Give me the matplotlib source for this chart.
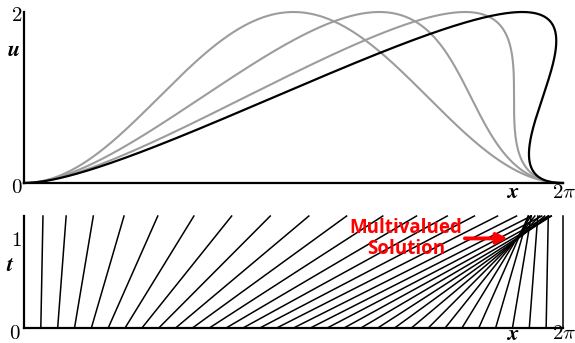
import numpy as np
import matplotlib.pyplot as plt

plt.rcParams['mathtext.fontset'] = 'cm'

# профили решения u(x, t) для u_t + u u_x = 0, u(x, 0) = 1 - cos x
t_gray = [0.0, 0.5, 1.0]
t_black = 4 / 3
# характеристики
t_char = 1.3
n_char = 33

s = np.linspace(0, 2 * np.pi, 800)
u0 = 1 - np.cos(s)

fig = plt.figure(figsize=(5.75, 3.43), dpi=100)
ax1 = fig.add_axes([0.0417, 0.4665, 0.9374, 0.4985])
ax2 = fig.add_axes([0.0417, 0.0437, 0.9374, 0.3265])

# верхний график: профили
for t in t_gray:
    ax1.plot(s + u0 * t, u0, color='#9c9c9c', lw=1.5, clip_on=False)
ax1.plot(s + u0 * t_black, u0, color='k', lw=1.6, clip_on=False)
ax1.set_xlim(0, 2 * np.pi)
ax1.set_ylim(0, 2)

# нижний график: характеристики x = x0 + u0(x0) t
x0 = np.linspace(0, 2 * np.pi, n_char)
for a in x0:
    ax2.plot([a, a + (1 - np.cos(a)) * t_char], [0, t_char],
             color='k', lw=1.1, clip_on=False)
ax2.set_xlim(0, 2 * np.pi)
ax2.set_ylim(0, t_char)

for ax in (ax1, ax2):
    for side in ('top', 'right'):
        ax.spines[side].set_visible(False)
    for side in ('left', 'bottom'):
        ax.spines[side].set_linewidth(1.6)
    ax.set_xticks([])
    ax.set_yticks([])

# подписи осей
def px(x, y):
    return x / 575, 1 - y / 343

fs = 15
fb = 16
fig.text(*px(17, 15), r'$2$', fontsize=fs, ha='center', va='center')
fig.text(*px(17, 187), r'$0$', fontsize=fs, ha='center', va='center')
fig.text(*px(13, 50), r'$\boldsymbol{u}$', fontsize=fb, ha='center', va='center')
fig.text(*px(513, 192), r'$\boldsymbol{x}$', fontsize=fb, ha='center', va='center')
fig.text(*px(564, 192), r'$2\pi$', fontsize=fs, ha='center', va='center')

fig.text(*px(16, 240), r'$1$', fontsize=fs, ha='center', va='center')
fig.text(*px(10, 265), r'$\boldsymbol{t}$', fontsize=fb, ha='center', va='center')
fig.text(*px(15, 333), r'$0$', fontsize=fs, ha='center', va='center')
fig.text(*px(513, 334), r'$\boldsymbol{x}$', fontsize=fb, ha='center', va='center')
fig.text(*px(564, 333), r'$2\pi$', fontsize=fs, ha='center', va='center')

# пометка многозначного решения
ax2.annotate('', xy=(5.64, 1.04), xytext=(5.14, 1.04),
             arrowprops=dict(arrowstyle='-|>', color='red', lw=2.8,
                             mutation_scale=16, shrinkA=0, shrinkB=0))
ax2.text(4.45, 1.04, 'Multivalued\nSolution', color='red', fontsize=13.5,
         fontweight='bold', family='Open Sans', ha='center', va='center',
         linespacing=1.05)

fig.savefig('out.png', dpi=100)
